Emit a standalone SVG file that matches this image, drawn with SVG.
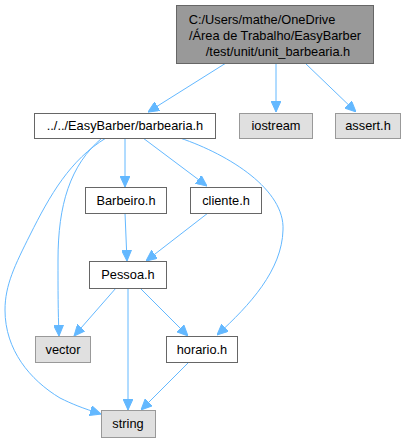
<svg xmlns="http://www.w3.org/2000/svg" width="409" height="443" viewBox="0 0 409 443">
<style>
.n rect{fill:#fff;stroke:#666;stroke-width:1}
.g rect{fill:#e0e0e0;stroke:#999;stroke-width:1}
.t rect{fill:#999;stroke:#666;stroke-width:1}
text{font-family:"Liberation Sans",Arial,sans-serif;font-size:12.8px;fill:#000;text-anchor:middle}
.e path{fill:none;stroke:#63b8ff;stroke-width:1;marker-end:url(#a)}
</style>
<defs>
<marker id="a" viewBox="0 0 11 10" refX="11" refY="5" markerWidth="11" markerHeight="10" markerUnits="userSpaceOnUse" orient="auto">
<path d="M0,0 L11,5 L0,10 z" fill="#63b8ff" stroke="#63b8ff"/>
</marker>
</defs>
<g id="edges" class="e">
<path d="M226,63 L148,112"/>
<path d="M276,63 L276,112"/>
<path d="M305,63 L356,112"/>
<path d="M125,138 L125,187"/>
<path d="M143,138 L207,186"/>
<path d="M102,138 C70,165 58,205 58,260 C58,290 58,310 59,336"/>
<path d="M106,138 C70,160 50,195 30,235 C15,265 5,285 5,310 C5,350 30,380 60,398 C72,404 82,408 101,414"/>
<path d="M180,138 C230,155 285,190 283,230 C282,270 250,305 217,335"/>
<path d="M125,213 L127,261"/>
<path d="M208,213 L146,261"/>
<path d="M116,288 L74,336"/>
<path d="M128,288 L128,410"/>
<path d="M140,288 L188,336"/>
<path d="M189,362 L141,410"/>
</g>
<g id="unit_barbearia" class="t"><rect x="176.5" y="5.5" width="197" height="58"/>
<text x="262" y="24">C:/Users/mathe/OneDrive</text>
<text x="275" y="40">/Área de Trabalho/EasyBarber</text>
<text x="278" y="56">/test/unit/unit_barbearia.h</text></g>
<g id="barbearia" class="n"><rect x="34.5" y="113.5" width="181" height="25"/><text x="125" y="130">../../EasyBarber/barbearia.h</text></g>
<g id="iostream" class="g"><rect x="239.5" y="113.5" width="73" height="25"/><text x="276" y="130">iostream</text></g>
<g id="assert" class="g"><rect x="335.5" y="113.5" width="65" height="25"/><text x="368" y="130">assert.h</text></g>
<g id="Barbeiro" class="n"><rect x="85.5" y="187.5" width="81" height="26"/><text x="126" y="205">Barbeiro.h</text></g>
<g id="cliente" class="n"><rect x="190.5" y="187.5" width="71" height="26"/><text x="226" y="205">cliente.h</text></g>
<g id="Pessoa" class="n"><rect x="89.5" y="261.5" width="77" height="27"/><text x="128" y="279">Pessoa.h</text></g>
<g id="vector" class="g"><rect x="35.5" y="336.5" width="55" height="26"/><text x="63" y="354">vector</text></g>
<g id="horario" class="n"><rect x="166.5" y="336.5" width="71" height="26"/><text x="202" y="354">horario.h</text></g>
<g id="string" class="g"><rect x="101.5" y="410.5" width="54" height="27"/><text x="128" y="428">string</text></g>
</svg>
